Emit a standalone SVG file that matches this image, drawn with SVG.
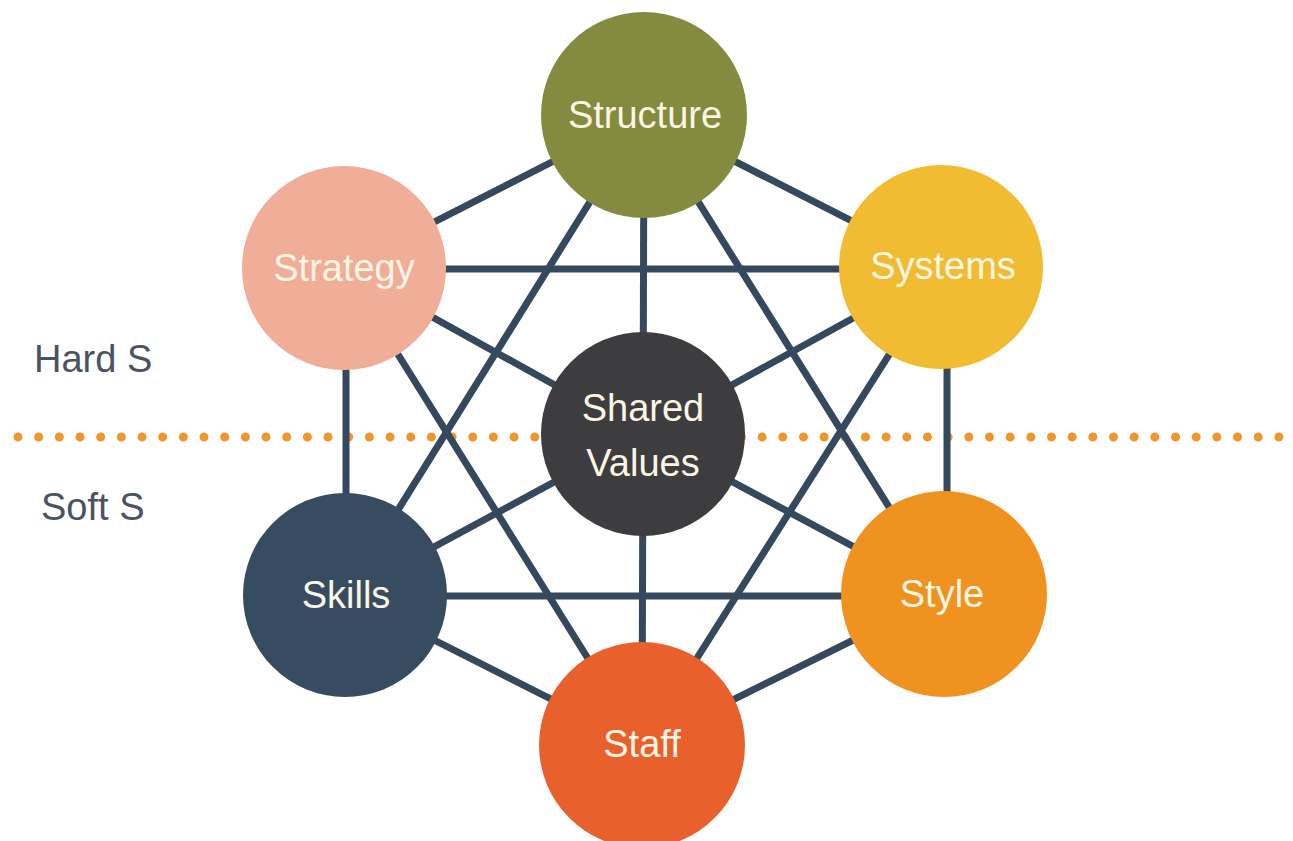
<svg xmlns="http://www.w3.org/2000/svg" width="1293" height="841" viewBox="0 0 1293 841">
<style>
.lbl{font-family:"Liberation Sans",Arial,sans-serif;font-size:38px;fill:#fbf5e4;text-anchor:middle}
.side{font-family:"Liberation Sans",Arial,sans-serif;font-size:38px;fill:#4a5362;text-anchor:start}
.c line{stroke:#34495e;stroke-width:7}
</style>
<rect width="1293" height="841" fill="#ffffff"/>
<g id="divider">
<line x1="18" y1="437" x2="1279" y2="437" stroke="#f0952a" stroke-width="9" stroke-linecap="round" stroke-dasharray="0 20.67"/>
<text class="side" x="34" y="372">Hard S</text>
<text class="side" x="41" y="520">Soft S</text>
</g>
<g id="connectors" class="c">
<line x1="644" y1="115" x2="344" y2="268"/>
<line x1="644" y1="115" x2="944" y2="268"/>
<line x1="644" y1="115" x2="643" y2="434"/>
<line x1="644" y1="115" x2="345" y2="595"/>
<line x1="644" y1="115" x2="944" y2="595"/>
<line x1="344" y1="269" x2="944" y2="269"/>
<line x1="344" y1="268" x2="643" y2="434"/>
<line x1="346" y1="268" x2="346" y2="595"/>
<line x1="344" y1="268" x2="642" y2="745"/>
<line x1="944" y1="268" x2="643" y2="434"/>
<line x1="947" y1="268" x2="947" y2="595"/>
<line x1="944" y1="268" x2="642" y2="745"/>
<line x1="345" y1="595" x2="643" y2="434"/>
<line x1="345" y1="596" x2="944" y2="596"/>
<line x1="345" y1="595" x2="642" y2="745"/>
<line x1="944" y1="595" x2="643" y2="434"/>
<line x1="944" y1="595" x2="642" y2="745"/>
<line x1="643" y1="434" x2="642" y2="745"/>
</g>
<g id="structure"><circle cx="644" cy="115" r="103" fill="#848a3e"/><text class="lbl" x="645" y="128">Structure</text></g>
<g id="strategy"><circle cx="344" cy="268" r="102" fill="#f0ae98"/><text class="lbl" x="344" y="281">Strategy</text></g>
<g id="systems"><circle cx="941" cy="267" r="102" fill="#f2bc32"/><text class="lbl" x="943" y="279">Systems</text></g>
<g id="shared-values"><circle cx="643" cy="434" r="102" fill="#3d3d3f"/><text class="lbl" x="643" y="421">Shared</text><text class="lbl" x="643" y="476">Values</text></g>
<g id="skills"><circle cx="345" cy="595" r="102" fill="#374c60"/><text class="lbl" x="346" y="608">Skills</text></g>
<g id="style"><circle cx="944" cy="594" r="103" fill="#f0921f"/><text class="lbl" x="942" y="607">Style</text></g>
<g id="staff"><circle cx="642" cy="745" r="103" fill="#e8612c"/><text class="lbl" x="642" y="757">Staff</text></g>
</svg>
